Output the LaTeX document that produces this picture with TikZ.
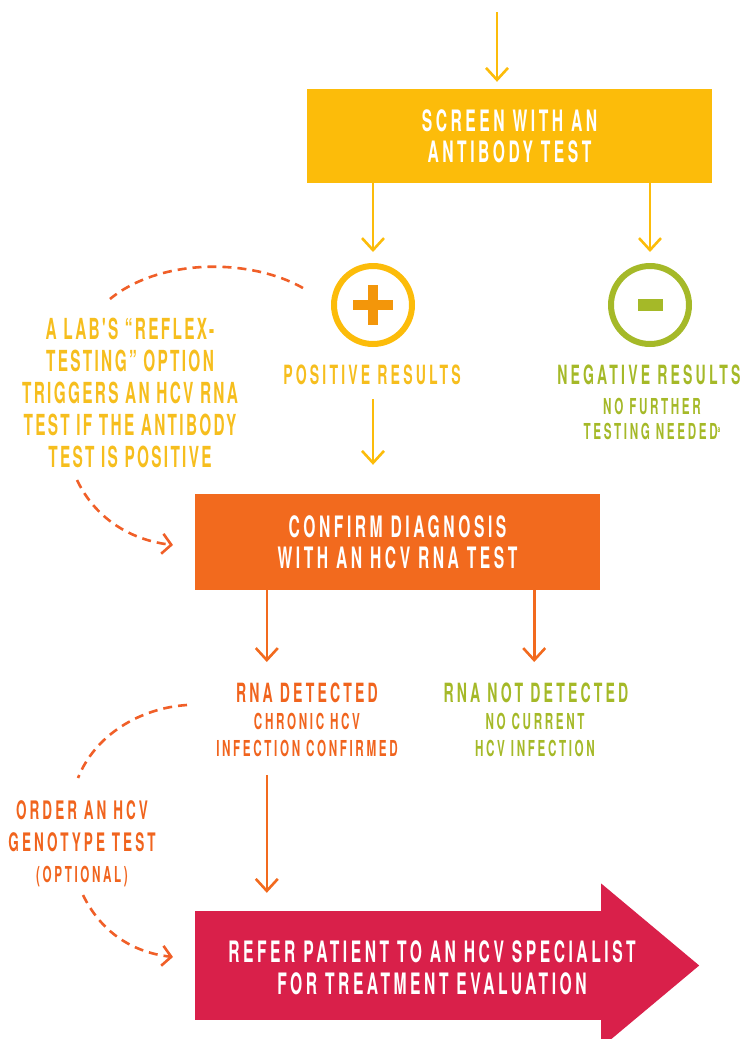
\documentclass[tikz,border=0pt]{standalone}
\usepackage{fontspec}
\usetikzlibrary{arrows.meta,calc}
\newfontfamily\cond[FakeStretch=0.53,LetterSpace=12]{TeX Gyre Heros}
\newfontfamily\condt[FakeStretch=0.53,LetterSpace=8]{TeX Gyre Heros}
\definecolor{ybox}{RGB}{252,188,10}
\definecolor{ytxt}{RGB}{246,190,30}
\definecolor{pluscol}{RGB}{243,150,10}
\definecolor{obox}{RGB}{242,106,30}
\definecolor{otxt}{RGB}{240,100,30}
\definecolor{dashcol}{RGB}{240,95,40}
\definecolor{gtxt}{RGB}{165,185,40}
\definecolor{crim}{RGB}{217,32,74}
\newcommand\szA{\fontsize{29.5}{31.5}\selectfont}
\newcommand\szB{\fontsize{26.5}{32}\selectfont}
\newcommand\szC{\fontsize{22}{25}\selectfont}
\begin{document}
\begin{tikzpicture}[x=1pt,y=-1pt,
  txt/.style={font=\cond\bfseries, inner sep=0pt, align=center},
  boxnode/.style={inner sep=0pt, align=center, text=white, font=\cond\bfseries\szA},
  arr/.style={line width=2.6pt, -{Straight Barb[length=12pt,width=22pt,line width=2.6pt]}},
  dasharr/.style={dashcol, line width=2.6pt, dash pattern=on 9pt off 6pt},
  ring/.style={circle, minimum size=78pt, line width=6pt, draw, inner sep=0pt}]
\useasboundingbox (0,0) rectangle (740,1039);
% boxes
\node[boxnode, fill=ybox, minimum width=405pt, minimum height=94pt] (box1) at (509.5,136) {SCREEN WITH AN\\ANTIBODY TEST};
\node[boxnode, fill=obox, minimum width=405pt, minimum height=96pt] (box2) at (397.5,542) {CONFIRM DIAGNOSIS\\WITH AN HCV RNA TEST};
\node[fill=crim, inner sep=0pt, minimum width=407pt, minimum height=109pt] (refer) at (398.5,965.5) {};
\fill[crim] ($(refer.east)+(-1,-82)$) -- ($(refer.east)+(97,0)$) -- ($(refer.east)+(-1,82)$) -- cycle;
\node[boxnode] (refertxt) at (432,967.5) {REFER PATIENT TO AN HCV SPECIALIST\\FOR TREATMENT EVALUATION};
% circles
\node[ring, draw=ybox] (plus) at (373,305) {};
\draw[pluscol, line width=10pt] ($(plus.center)+(-20,0)$) -- ($(plus.center)+(20,0)$);
\draw[pluscol, line width=10pt] ($(plus.center)+(0,-20)$) -- ($(plus.center)+(0,20)$);
\node[ring, draw=gtxt] (minus) at (650,305) {};
\fill[gtxt] ($(minus.center)+(-12.5,-6)$) rectangle ($(minus.center)+(12.5,6)$);
% texts
\node[txt, text=ytxt, font=\cond\bfseries\szB, anchor=north] (posres) at (372,365) {POSITIVE RESULTS};
\node[txt, text=gtxt, font=\cond\bfseries\szB, anchor=north] (negres) at (649,365) {NEGATIVE RESULTS};
\node[txt, text=gtxt, font=\cond\bfseries\szC, anchor=north] (negsub) at (652,398) {NO FURTHER\\TESTING NEEDED{\fontsize{9}{9}\selectfont\raisebox{7pt}{a}}};
\node[txt, text=ytxt, font=\condt\bfseries\fontsize{29}{32}\selectfont, anchor=north] (reflex) at (130,318) {A LAB'S “REFLEX-\\TESTING” OPTION\\TRIGGERS AN HCV RNA\\TEST IF THE ANTIBODY\\TEST IS POSITIVE};
\node[txt, text=otxt, font=\cond\bfseries\szB, anchor=north] (rnadet) at (307,683) {RNA DETECTED};
\node[txt, text=otxt, font=\cond\bfseries\fontsize{22}{27}\selectfont, anchor=north] (rnadetsub) at (307,713) {CHRONIC HCV\\INFECTION CONFIRMED};
\node[txt, text=gtxt, font=\cond\bfseries\szB, anchor=north] (rnanot) at (536,683) {RNA NOT DETECTED};
\node[txt, text=gtxt, font=\cond\bfseries\fontsize{22}{27}\selectfont, anchor=north] (rnanotsub) at (535,713) {NO CURRENT\\HCV INFECTION};
\node[txt, text=otxt, font=\cond\bfseries\fontsize{25.5}{32}\selectfont, anchor=north] (geno) at (82,800) {ORDER AN HCV\\GENOTYPE TEST};
\node[txt, text=otxt, font=\cond\bfseries\szC, anchor=north] (optional) at (82,866) {(OPTIONAL)};
% solid arrows
\coordinate (start) at (497,12);
\draw[arr, ybox, shorten >=7pt] (start) -- (start |- box1.north);
\draw[arr, ybox, shorten >=11pt] (plus |- box1.south) -- (plus.north);
\draw[arr, ybox, shorten >=11pt] (minus |- box1.south) -- (minus.north);
\draw[arr, ybox, shorten <=14pt, shorten >=29pt] (plus |- posres.south) -- (plus |- box2.north);
\draw[arr, obox, shorten >=21pt] ([xshift=72pt]box2.south west) -- ([xshift=72pt]box2.south west |- rnadet.north);
\draw[arr, obox, shorten >=21pt] ([xshift=-66pt]box2.south east) -- ([xshift=-66pt]box2.south east |- rnanot.north);
\draw[arr, obox, shorten <=18pt, shorten >=18pt] ([xshift=72pt]box2.south west |- rnadetsub.south) -- ([xshift=72pt]box2.south west |- refer.north);
% dashed curves
\coordinate (d1a) at (303,288);
\coordinate (d1b) at (110,299);
\coordinate (d1c) at (77,480);
\coordinate (d1d) at (173,545);
\coordinate (d2a) at (187,705);
\coordinate (d2b) at (78,778);
\coordinate (d2c) at (83,895);
\coordinate (d2d) at (173,957);
\draw[dasharr] (d1a) .. controls (250,258) and (160,258) .. (d1b);
\draw[dasharr, -{Straight Barb[length=9pt,width=20pt,line width=2.6pt]}] (d1c) .. controls (95,518) and (130,540) .. (d1d);
\draw[dasharr] (d2a) .. controls (140,708) and (95,735) .. (d2b);
\draw[dasharr, -{Straight Barb[length=9pt,width=20pt,line width=2.6pt]}] (d2c) .. controls (100,930) and (130,952) .. (d2d);
\end{tikzpicture}
\end{document}
